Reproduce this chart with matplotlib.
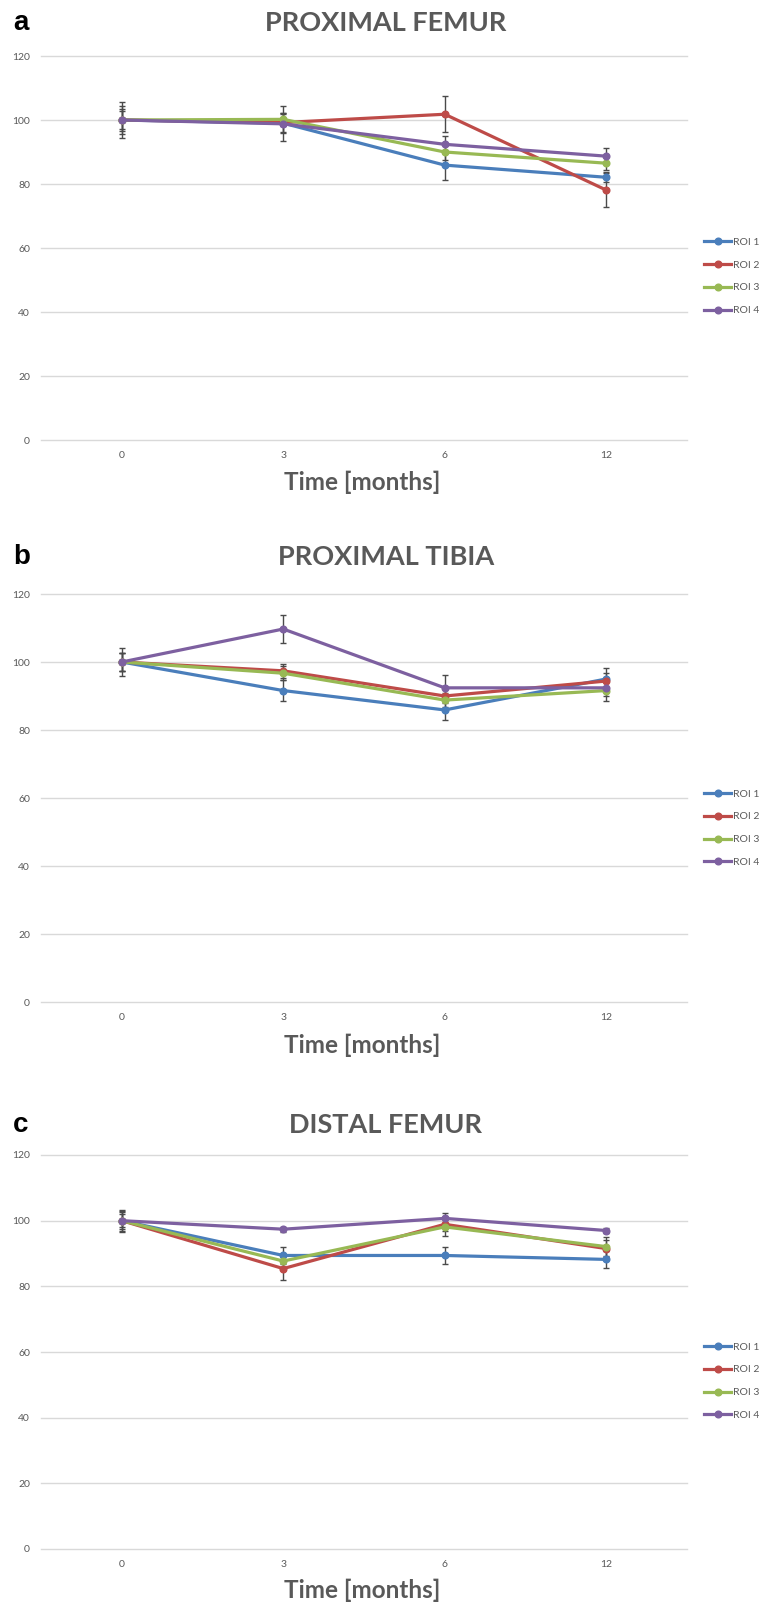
import matplotlib.pyplot as plt
from matplotlib.lines import Line2D
import numpy as np

months = ['0', '3', '6', '12']
rois = ['ROI 1', 'ROI 2', 'ROI 3', 'ROI 4']
colors = ['#4A7EBB', '#BE4B48', '#98B954', '#7D60A0']

# panel a: proximal femur
pf_mean = [[100, 99.0, 85.9, 82.1],
           [100, 99.2, 101.8, 78.1],
           [100, 100.2, 90.0, 86.5],
           [100, 98.8, 92.4, 88.7]]
pf_err = [[5.5, 5.5, 4.7, 1.6],
          [4.5, 3.0, 5.6, 5.4],
          [3.5, 2.0, 2.5, 2.0],
          [2.7, 3.0, 2.6, 2.6]]

# panel b: proximal tibia
pt_mean = [[100, 91.6, 85.9, 95.0],
           [100, 97.4, 90.0, 94.4],
           [100, 96.7, 88.8, 91.6],
           [100, 109.7, 92.4, 92.4]]
pt_err = [[4.0, 3.2, 2.9, 3.1],
          [2.7, 2.0, 2.0, 2.5],
          [2.7, 2.0, 2.0, 3.1],
          [2.7, 4.1, 3.9, 2.5]]

# panel c: distal femur
df_mean = [[100, 89.4, 89.4, 88.2],
           [100, 85.4, 98.9, 91.5],
           [100, 87.7, 98.1, 92.1],
           [100, 97.4, 100.7, 97.0]]
df_err = [[3.4, 2.7, 2.7, 2.7],
          [3.0, 3.4, 2.0, 2.5],
          [2.5, 2.0, 2.8, 2.9],
          [2.0, 0.8, 1.5, 0.8]]

panels = [('a', 'PROXIMAL FEMUR', pf_mean, pf_err),
          ('b', 'PROXIMAL TIBIA', pt_mean, pt_err),
          ('c', 'DISTAL FEMUR', df_mean, df_err)]

W, H = 764, 1605
fig = plt.figure(figsize=(W / 100, H / 100), dpi=100)

# (top, bottom, title y, xlabel y) in pixels
boxes = [(56, 440, 23, 482),
         (594, 1002, 557, 1045),
         (1155, 1549, 1125, 1590)]
gray = '#595959'
x = np.arange(len(months))

for (letter, title, means, errs), (top, bot, ty, xy) in zip(panels, boxes):
    ax = fig.add_axes([41 / W, 1 - bot / H, 646 / W, (bot - top) / H])
    for i in range(4):
        ax.errorbar(x, means[i], yerr=errs[i], color=colors[i], lw=2.3,
                    marker='o', ms=4.8, ecolor='#4A4A4A', elinewidth=1,
                    capsize=2, capthick=1, zorder=3)
    ax.set_xlim(-0.5, 3.5)
    ax.set_ylim(0, 120)
    ax.set_yticks(range(0, 121, 20))
    ax.set_xticks(x)
    ax.set_xticklabels(months)
    ax.grid(axis='y', color='#D9D9D9', lw=1)
    for gl in ax.get_ygridlines():
        gl.set_clip_on(False)
    ax.set_axisbelow(True)
    for s in ax.spines.values():
        s.set_visible(False)
    ax.tick_params(length=0, labelsize=7.5, labelcolor=gray, pad=8)
    ax.tick_params(axis='y', pad=8)
    for t in ax.get_xticklabels() + ax.get_yticklabels():
        t.set_family('Lato')
    handles = [Line2D([], [], color=c, lw=2.3, marker='o', ms=4.8) for c in colors]
    leg = ax.legend(handles, rois, loc='center left', bbox_to_anchor=(1.02, 0.426),
                    frameon=False, handlelength=2.6, handletextpad=0.2,
                    labelspacing=1.3, borderaxespad=0,
                    prop={'family': 'Lato', 'size': 7.5})
    for t in leg.get_texts():
        t.set_color(gray)
    fig.text(386 / W, 1 - ty / H, title, ha='center', va='center',
             fontsize=19.5, fontweight='bold', color=gray, family='Lato')
    fig.text(362 / W, 1 - xy / H, 'Time [months]', ha='center', va='center',
             fontsize=17.5, fontweight='bold', color=gray, family='Lato')
    fig.text(13 / W, 1 - ty / H, letter, ha='left', va='center',
             fontsize=20, fontweight='bold', color='black',
             family='Liberation Sans')

fig.savefig('out.png', dpi=100)
